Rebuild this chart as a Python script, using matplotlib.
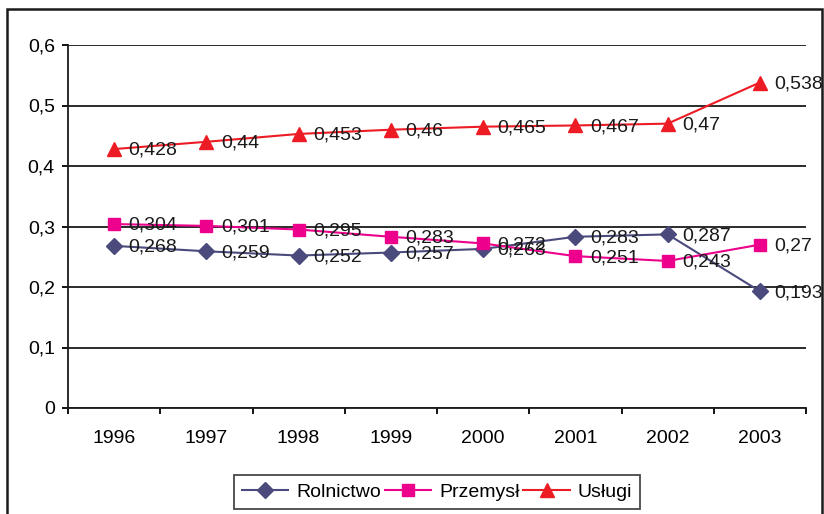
import matplotlib.pyplot as plt
from matplotlib.patches import Rectangle

plt.rcParams['font.family'] = ['Liberation Sans', 'DejaVu Sans']

# data
years = ["1996", "1997", "1998", "1999", "2000", "2001", "2002", "2003"]
rolnictwo = [0.268, 0.259, 0.252, 0.257, 0.263, 0.283, 0.287, 0.193]
przemysl = [0.304, 0.301, 0.295, 0.283, 0.272, 0.251, 0.243, 0.27]
uslugi = [0.428, 0.44, 0.453, 0.46, 0.465, 0.467, 0.47, 0.538]
yticks = [0, 0.1, 0.2, 0.3, 0.4, 0.5, 0.6]
ytick_labels = ["0", "0,1", "0,2", "0,3", "0,4", "0,5", "0,6"]

FS = 14

fig = plt.figure(figsize=(8.24, 5.14), dpi=100)
ax = fig.add_axes([68/824, 1-408/514, (806-68)/824, (408-45)/514])

x = list(range(len(years)))
series = [
    ("Rolnictwo", rolnictwo, "#4a4a7c", "D", 8),
    ("Przemysł", przemysl, "#ec008c", "s", 9),
    ("Usługi", uslugi, "#ed1c24", "^", 9.5),
]
for name, vals, col, mk, ms in series:
    ax.plot(x, vals, color=col, lw=1.5, marker=mk, markersize=ms,
            markeredgecolor=col, label=name, zorder=3)

for name, vals, col, mk, ms in series:
    for xi, v in zip(x, vals):
        ax.annotate(str(v).replace(".", ","), (xi, v), xytext=(10.5, -1),
                    textcoords="offset points", ha="left", va="center",
                    fontsize=FS, color="#1a1a1a", zorder=4,
                    annotation_clip=False)

ax.set_xlim(-0.5, 7.5)
ax.set_ylim(0, 0.6)
ax.set_yticks(yticks)
ax.set_yticklabels(ytick_labels)
ax.set_xticks([i - 0.5 for i in range(len(years) + 1)])
ax.set_xticklabels([])
ax.set_xticks(x, minor=True)
ax.set_xticklabels(years, minor=True)
ax.tick_params(axis="x", which="major", direction="out", length=4, width=1.3)
ax.tick_params(axis="x", which="minor", length=0, pad=16, labelsize=FS)
ax.tick_params(axis="y", direction="out", length=4.5, width=1.3, pad=5,
               labelsize=FS)

ax.grid(axis="y", color="#1a1a1a", lw=1.3, zorder=1)
ax.set_axisbelow(True)
for s in ["top", "right"]:
    ax.spines[s].set_visible(False)
for s in ["left", "bottom"]:
    ax.spines[s].set_linewidth(1.3)
    ax.spines[s].set_color("#1a1a1a")

leg = fig.legend(loc="center", bbox_to_anchor=(437/824, 1-492/514), ncol=3,
                 fontsize=FS, frameon=True, fancybox=False, edgecolor="#1a1a1a",
                 handlelength=2.4, columnspacing=0.2, handletextpad=0.4,
                 borderpad=0.4)
leg.get_frame().set_linewidth(1.3)

fig.patches.append(Rectangle((7/824, -0.02), 815/824, 1.02-9/514,
                             transform=fig.transFigure, fill=False,
                             edgecolor="#1a1a1a", lw=1.8))

fig.savefig("out.png", dpi=100)
